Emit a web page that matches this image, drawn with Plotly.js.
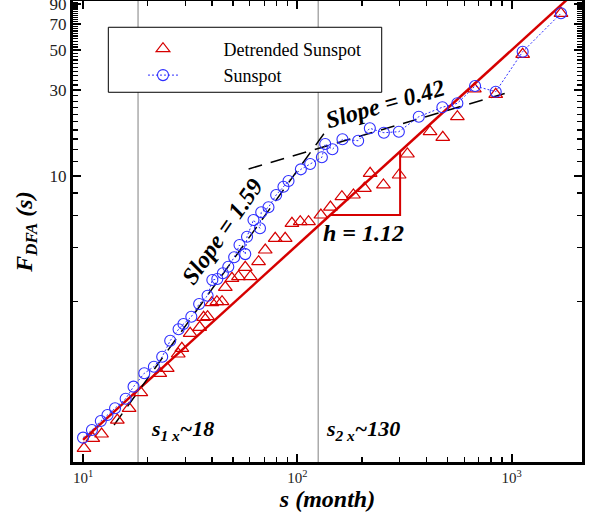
<!DOCTYPE html>
<html>
<head>
<meta charset="utf-8">
<script src="https://cdn.plot.ly/plotly-3.0.1.min.js"></script>
<style>html,body{margin:0;padding:0;background:#fff;}#chart{width:593px;height:513px;}</style>
</head>
<body>
<div id="chart"></div>
<script>
// ---- data ----
var detrendedS = [10.1, 11.1, 12.2, 14.45, 16.4, 18.6, 22.8, 24.7, 27.8, 28.9, 31.6, 35.0, 36.5, 38.1, 39.9, 42.1, 44.5, 46.1, 49.5, 53.1, 57.1, 60.3, 65.9, 70.8, 78.8, 87.7, 94.3, 103.1, 112.7, 128.7, 142.6, 161.3, 182.6, 205.5, 218.5, 252, 298.4, 326.1, 415.9, 476.8, 557.8, 669.5, 842.3, 1125, 1698];
var detrendedF = [0.3035, 0.345, 0.3645, 0.436, 0.507, 0.619, 0.794, 0.846, 1.017, 1.094, 1.326, 1.432, 1.628, 1.640, 1.963, 1.988, 1.988, 2.391, 2.684, 2.739, 3.09, 2.739, 3.32, 3.857, 4.48, 4.48, 5.43, 5.545, 5.545, 6.04, 6.69, 7.64, 7.81, 8.51, 10.31, 8.88, 10.09, 13.21, 17.58, 16.36, 21.3, 30.4, 28.4, 47.4, 80.2];

var sunspotS = [10.0, 11.0, 12.1, 13.0, 14.1, 15.8, 17.2, 19.3, 21.4, 23.4, 25.5, 27.9, 29.4, 32.0, 34.8, 38.1, 40.1, 42.3, 44.9, 47.6, 50.7, 53.7, 57.1, 58.2, 62.4, 66.9, 67.8, 73.3, 79.6, 86.1, 90.9, 103.8, 114.7, 130.1, 134.8, 145.7, 162.3, 192.1, 217.8, 253.2, 297.4, 368.5, 474.8, 557.8, 674.6, 842.3, 1125, 1698];
var sunspotF = [0.348, 0.384, 0.431, 0.465, 0.507, 0.573, 0.669, 0.794, 0.864, 0.982, 1.206, 1.396, 1.494, 1.640, 1.930, 2.147, 2.626, 2.66, 2.861, 3.113, 3.513, 4.113, 3.66, 4.575, 5.667, 5.095, 6.255, 6.67, 7.806, 8.685, 9.34, 10.85, 11.62, 12.66, 15.02, 14.03, 15.95, 15.66, 18.36, 17.35, 17.58, 21.3, 24.06, 25.3, 31.58, 29.36, 49.0, 80.2];

// fitted line h = 1.12 (end points)
var fitS = [10, 2200];
var fitF = [0.338, 118];
// slope triangle for h
var hTriS = [142.6, 301.5, 301.5];
var hTriF = [6.04, 6.04, 13.6];
// dashed guide lines
var slopeAS = [13.95, 142.2];
var slopeAF = [0.409, 19.15];
var slopeBS = [59.2, 1014];
var slopeBF = [10.9, 29.6];
// crossover scales
var crossS = [18.05, 125];

// tick values
var xMajor = [10, 100, 1000];
var xMajorText = ['10<sup>1</sup>', '10<sup>2</sup>', '10<sup>3</sup>'];
var xMinor = [20, 30, 40, 50, 60, 70, 80, 90, 200, 300, 400, 500, 600, 700, 800, 900];
var yMajor = [10, 30, 50, 70, 90];
var yMinor = [2, 4, 6, 8, 12, 14, 16, 18, 20, 22, 24, 26, 28, 32, 34, 36, 38, 40, 42, 44, 46, 48, 52, 54, 56, 58, 60, 62, 64, 66, 68, 72, 74, 76, 78, 80, 82, 84, 86, 88, 92];

var SERIF = 'Liberation Serif, Times New Roman, serif';
var RED = 'rgb(214,0,0)';
var BLUE = 'rgb(45,45,255)';
var XR = [0.953, 3.328];
var YR = [-0.5941, 1.9727];
var PAD = '\u00a0\u00a0\u00a0\u00a0\u00a0\u00a0\u00a0\u00a0\u00a0';

var traces = [
  {x: fitS, y: fitF, mode: 'lines', line: {color: RED, width: 2.5}, showlegend: false, hoverinfo: 'skip'},
  {x: hTriS, y: hTriF, mode: 'lines', line: {color: RED, width: 2}, showlegend: false, hoverinfo: 'skip'},
  {x: slopeAS, y: slopeAF, mode: 'lines', line: {color: 'black', width: 1.5, dash: '14px,9px'}, showlegend: false, hoverinfo: 'skip'},
  {x: slopeBS, y: slopeBF, mode: 'lines', line: {color: 'black', width: 1.5, dash: '14px,9px'}, showlegend: false, hoverinfo: 'skip'},
  {x: detrendedS, y: detrendedF, name: PAD + 'Detrended Sunspot', mode: 'markers',
   marker: {symbol: 'triangle-up-open', size: 12, color: RED, line: {width: 1.2, color: RED}}},
  {x: sunspotS, y: sunspotF, name: PAD + 'Sunspot', mode: 'lines+markers',
   line: {color: BLUE, width: 1, dash: '2px,2px'},
   marker: {symbol: 'circle-open', size: 11, color: BLUE, line: {width: 1.1, color: BLUE}}}
];

var shapes = crossS.map(function (s) {
  return {type: 'line', xref: 'x', yref: 'paper', x0: s, x1: s, y0: 0, y1: 1, line: {color: '#808080', width: 1}, layer: 'below'};
});
shapes.push({type: 'rect', xref: 'paper', yref: 'paper', x0: 0.0694, x1: 0.6065, y0: 0.802, y1: 0.943,
  fillcolor: 'white', line: {color: 'black', width: 1}, layer: 'above'});

function ann(x, y, text, angle, size) {
  return {xref: 'paper', yref: 'paper', x: x, y: y, xanchor: 'center', yanchor: 'middle',
          text: '<b><i>' + text + '</i></b>', textangle: angle || 0, showarrow: false,
          font: {family: SERIF, size: size, color: 'black'}};
}
var annotations = [
  ann(0.2921, 0.4996, 'Slope = 1.59', -55, 24),
  ann(0.613, 0.7766, 'Slope = 0.42', -16, 24),
  ann(0.5707, 0.4967, 'h = 1.12', 0, 24),
  ann(0.2161, 0.0694, 's<sub>1 x</sub>~18', 0, 22),
  ann(0.5697, 0.0694, 's<sub>2 x</sub>~130', 0, 22)
];

var titleFont = {family: SERIF, size: 24, color: 'black'};

var layout = {
  width: 593, height: 513,
  margin: {l: 73, r: 11, t: 1, b: 51},
  paper_bgcolor: 'white', plot_bgcolor: 'white',
  showlegend: true,
  legend: {x: 0.1375, y: 0.936, xanchor: 'left', yanchor: 'top', bgcolor: 'rgba(0,0,0,0)', borderwidth: 0,
           font: {family: SERIF, size: 18, color: 'black'}, traceorder: 'normal'},
  xaxis: {type: 'log', range: XR, tickmode: 'array', tickvals: xMajor, ticktext: xMajorText, ticks: 'inside', ticklen: 8, tickwidth: 2,
          tickcolor: 'black', showline: true, linewidth: 3, linecolor: 'black', mirror: 'ticks', showgrid: false,
          zeroline: false, tickfont: {family: SERIF, size: 15, color: '#222'}, ticklabeloverflow: 'allow',
          minor: {tickmode: 'array', tickvals: xMinor, ticks: 'inside', ticklen: 5, tickwidth: 1.3, tickcolor: 'black', showgrid: false},
          title: {text: '<b><i>s (month)</i></b>', font: titleFont, standoff: 2}},
  yaxis: {type: 'log', range: YR, tickmode: 'array', tickvals: yMajor, ticktext: yMajor.map(String), ticks: 'inside', ticklen: 8, tickwidth: 2,
          tickcolor: 'black', showline: true, linewidth: 3, linecolor: 'black', mirror: 'ticks', showgrid: false,
          zeroline: false, tickfont: {family: SERIF, size: 17, color: '#222'}, ticklabeloverflow: 'allow',
          minor: {tickmode: 'array', tickvals: yMinor, ticks: 'inside', ticklen: 5, tickwidth: 1.3, tickcolor: 'black', showgrid: false},
          title: {text: '<b><i>F<sub>DFA</sub> (s)</i></b>', font: titleFont, standoff: 11}},
  shapes: shapes,
  annotations: annotations
};

Plotly.newPlot('chart', traces, layout, {displayModeBar: false, staticPlot: true});
</script>
</body>
</html>
